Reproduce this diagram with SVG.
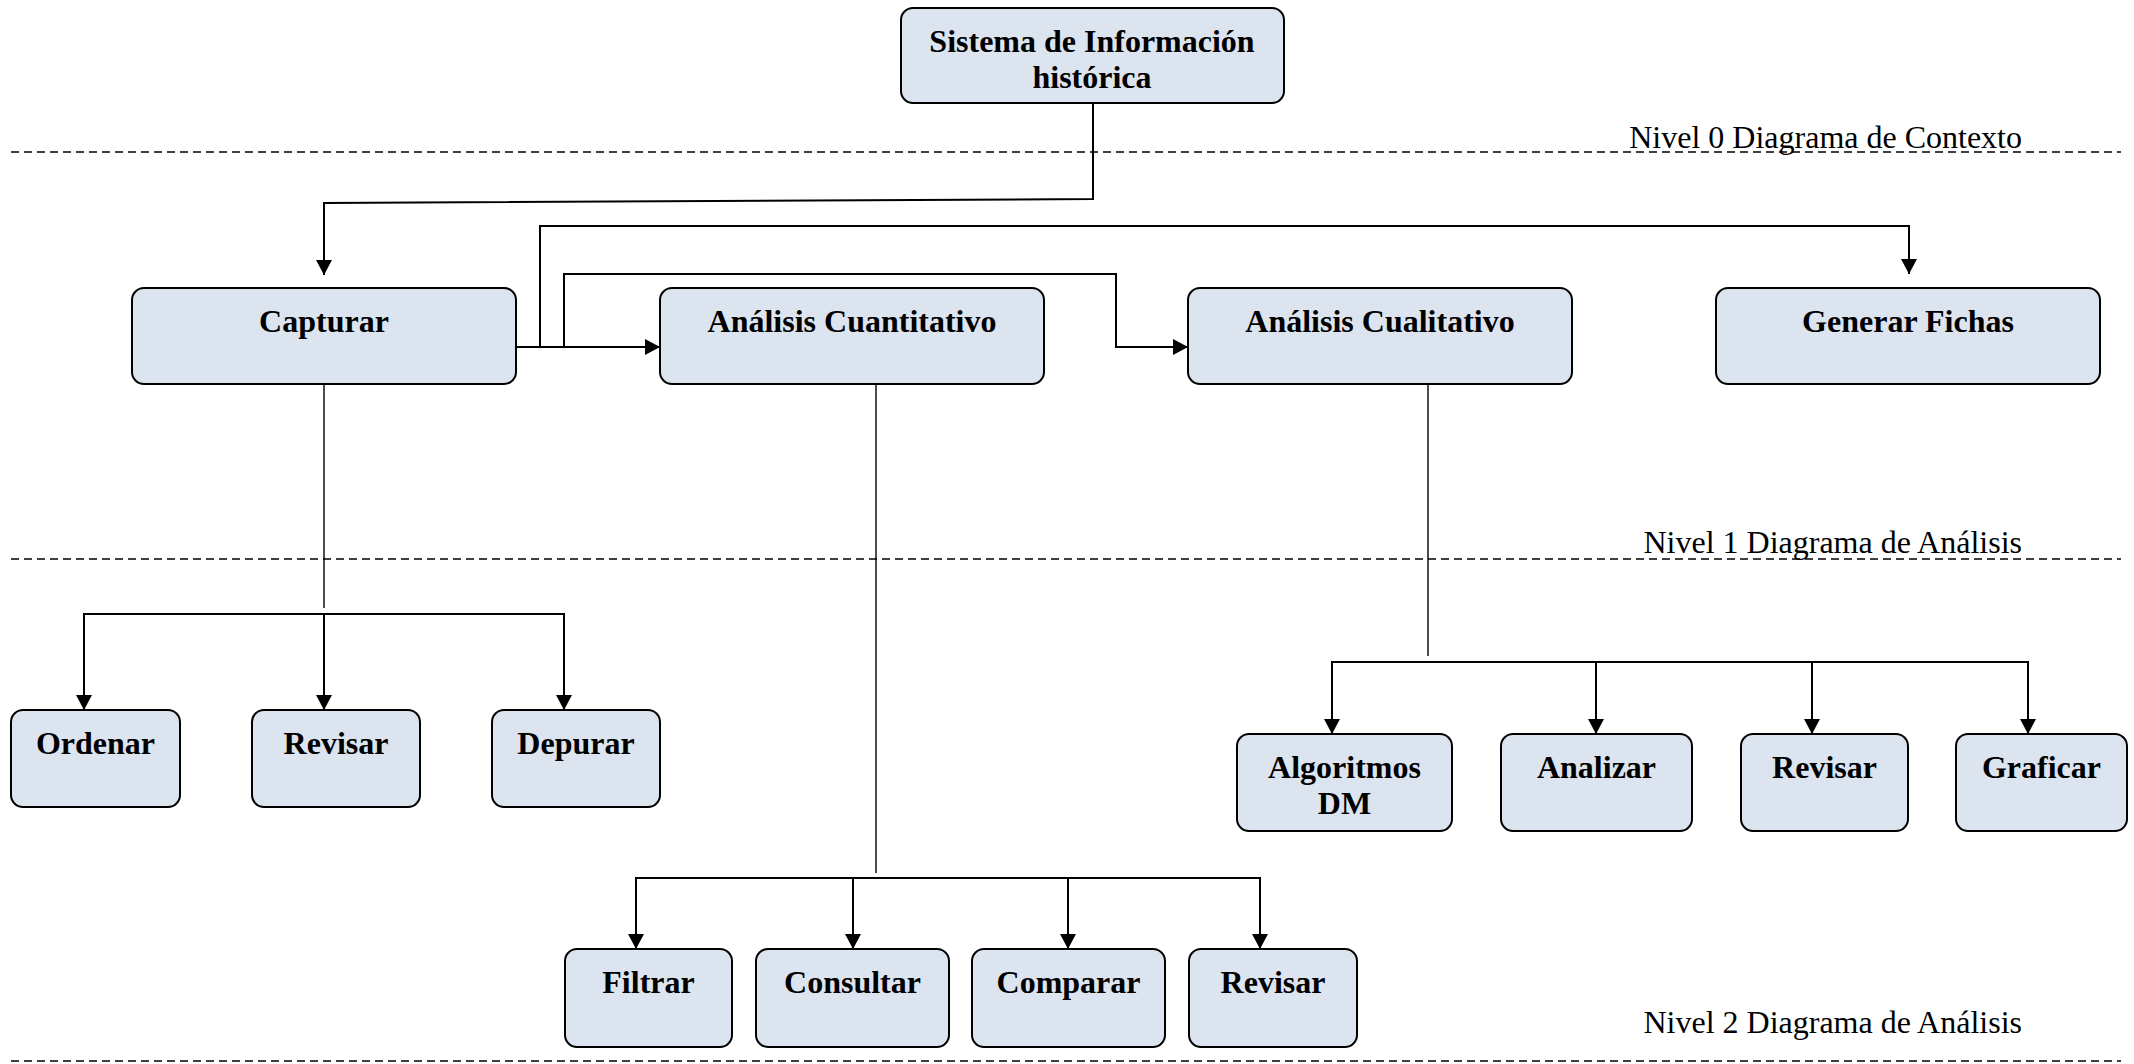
<svg xmlns="http://www.w3.org/2000/svg" width="2134" height="1064" viewBox="0 0 2134 1064">
  <style>
    .box { fill: #dce4f0; stroke: #000; stroke-width: 2; }
    .lbl { font-family: "Liberation Serif", "Times New Roman", serif; font-weight: bold; font-size: 32px; fill: #000; text-anchor: middle; }
    .lvl { font-family: "Liberation Serif", "Times New Roman", serif; font-size: 32px; fill: #000; text-anchor: end; }
    .sep { stroke: #000; stroke-width: 1.5; stroke-dasharray: 8 5; fill: none; }
    .wire { stroke: #000; stroke-width: 2; fill: none; }
    .trunk { stroke: #000; stroke-width: 1.4; fill: none; }
    .arr { stroke: #000; stroke-width: 2; fill: none; marker-end: url(#head); }
  </style>
  <defs>
    <marker id="head" viewBox="0 0 15 16" refX="15" refY="8" markerWidth="15" markerHeight="16" markerUnits="userSpaceOnUse" orient="auto">
      <path d="M0,0 L15,8 L0,16 Z" fill="#000"/>
    </marker>
  </defs>

  <rect width="2134" height="1064" fill="#fff"/>

  <!-- level separators and their captions -->
  <g id="levels">
    <line class="sep" x1="11" y1="152" x2="2121" y2="152"/>
    <line class="sep" x1="11" y1="559" x2="2121" y2="559"/>
    <line class="sep" x1="11" y1="1061" x2="2121" y2="1061"/>
    <text class="lvl" x="2022" y="148">Nivel 0 Diagrama de Contexto</text>
    <text class="lvl" x="2022" y="553">Nivel 1 Diagrama de Análisis</text>
    <text class="lvl" x="2022" y="1033">Nivel 2 Diagrama de Análisis</text>
  </g>

  <!-- connectors -->
  <g id="connectors">
    <!-- system to Capturar -->
    <polyline class="arr" points="1093,103 1093,199 324,203 324,275"/>
    <!-- Capturar to Análisis Cuantitativo -->
    <polyline class="arr" points="516,347 660,347"/>
    <!-- Capturar to Generar Fichas -->
    <polyline class="arr" points="540,347 540,226 1909,226 1909,274"/>
    <!-- Capturar to Análisis Cualitativo -->
    <polyline class="arr" points="564,347 564,274 1116,274 1116,347 1188,347"/>

    <!-- Capturar children -->
    <line class="trunk" x1="324" y1="384" x2="324" y2="608"/>
    <polyline class="wire" points="84,710 84,614 564,614 564,710"/>
    <line class="arr" x1="84" y1="680" x2="84" y2="710"/>
    <line class="arr" x1="324" y1="614" x2="324" y2="710"/>
    <line class="arr" x1="564" y1="680" x2="564" y2="710"/>

    <!-- Análisis Cuantitativo children -->
    <line class="trunk" x1="876" y1="384" x2="876" y2="873"/>
    <polyline class="wire" points="636,949 636,878 1260,878 1260,949"/>
    <line class="arr" x1="636" y1="920" x2="636" y2="949"/>
    <line class="arr" x1="853" y1="878" x2="853" y2="949"/>
    <line class="arr" x1="1068" y1="878" x2="1068" y2="949"/>
    <line class="arr" x1="1260" y1="920" x2="1260" y2="949"/>

    <!-- Análisis Cualitativo children -->
    <line class="trunk" x1="1428" y1="384" x2="1428" y2="656"/>
    <polyline class="wire" points="1332,734 1332,662 2028,662 2028,734"/>
    <line class="arr" x1="1332" y1="700" x2="1332" y2="734"/>
    <line class="arr" x1="1596" y1="662" x2="1596" y2="734"/>
    <line class="arr" x1="1812" y1="662" x2="1812" y2="734"/>
    <line class="arr" x1="2028" y1="700" x2="2028" y2="734"/>
  </g>

  <!-- level 0 -->
  <g id="sistema">
    <rect class="box" x="901" y="8" width="383" height="95" rx="12"/>
    <text class="lbl" x="1092" y="52">Sistema de Información</text>
    <text class="lbl" x="1092" y="88">histórica</text>
  </g>

  <!-- level 1 -->
  <g id="capturar">
    <rect class="box" x="132" y="288" width="384" height="96" rx="12"/>
    <text class="lbl" x="324" y="332">Capturar</text>
  </g>
  <g id="analisis-cuantitativo">
    <rect class="box" x="660" y="288" width="384" height="96" rx="12"/>
    <text class="lbl" x="852" y="332">Análisis Cuantitativo</text>
  </g>
  <g id="analisis-cualitativo">
    <rect class="box" x="1188" y="288" width="384" height="96" rx="12"/>
    <text class="lbl" x="1380" y="332">Análisis Cualitativo</text>
  </g>
  <g id="generar-fichas">
    <rect class="box" x="1716" y="288" width="384" height="96" rx="12"/>
    <text class="lbl" x="1908" y="332">Generar Fichas</text>
  </g>

  <!-- level 2: Capturar -->
  <g id="ordenar">
    <rect class="box" x="11" y="710" width="169" height="97" rx="12"/>
    <text class="lbl" x="95.5" y="754">Ordenar</text>
  </g>
  <g id="revisar-captura">
    <rect class="box" x="252" y="710" width="168" height="97" rx="12"/>
    <text class="lbl" x="336" y="754">Revisar</text>
  </g>
  <g id="depurar">
    <rect class="box" x="492" y="710" width="168" height="97" rx="12"/>
    <text class="lbl" x="576" y="754">Depurar</text>
  </g>

  <!-- level 2: Análisis Cuantitativo -->
  <g id="filtrar">
    <rect class="box" x="565" y="949" width="167" height="98" rx="12"/>
    <text class="lbl" x="648.5" y="993">Filtrar</text>
  </g>
  <g id="consultar">
    <rect class="box" x="756" y="949" width="193" height="98" rx="12"/>
    <text class="lbl" x="852.5" y="993">Consultar</text>
  </g>
  <g id="comparar">
    <rect class="box" x="972" y="949" width="193" height="98" rx="12"/>
    <text class="lbl" x="1068.5" y="993">Comparar</text>
  </g>
  <g id="revisar-cuantitativo">
    <rect class="box" x="1189" y="949" width="168" height="98" rx="12"/>
    <text class="lbl" x="1273" y="993">Revisar</text>
  </g>

  <!-- level 2: Análisis Cualitativo -->
  <g id="algoritmos-dm">
    <rect class="box" x="1237" y="734" width="215" height="97" rx="12"/>
    <text class="lbl" x="1344.5" y="778">Algoritmos</text>
    <text class="lbl" x="1344.5" y="814">DM</text>
  </g>
  <g id="analizar">
    <rect class="box" x="1501" y="734" width="191" height="97" rx="12"/>
    <text class="lbl" x="1596.5" y="778">Analizar</text>
  </g>
  <g id="revisar-cualitativo">
    <rect class="box" x="1741" y="734" width="167" height="97" rx="12"/>
    <text class="lbl" x="1824.5" y="778">Revisar</text>
  </g>
  <g id="graficar">
    <rect class="box" x="1956" y="734" width="171" height="97" rx="12"/>
    <text class="lbl" x="2041.5" y="778">Graficar</text>
  </g>
</svg>
